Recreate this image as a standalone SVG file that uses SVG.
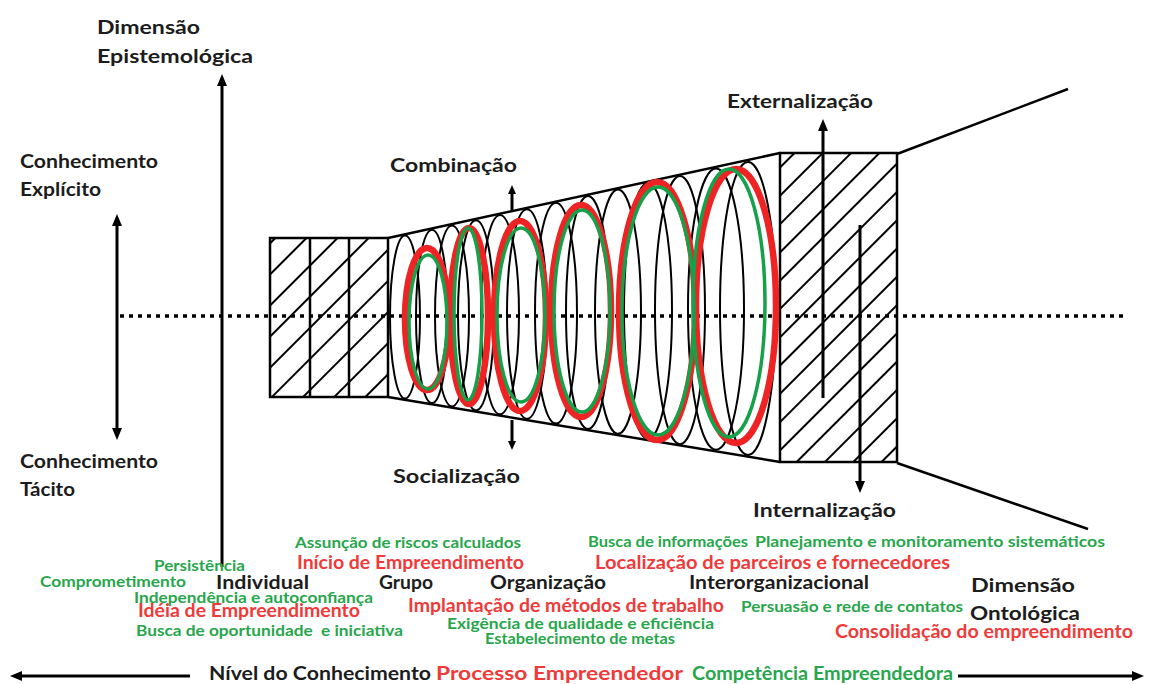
<svg xmlns="http://www.w3.org/2000/svg" width="1150" height="684" viewBox="0 0 1150 684">
<defs>
<style>
text { font-family: Lato, "Liberation Sans", sans-serif; font-weight: 700; white-space: pre; }
.k { fill: #1c1c1c; font-size: 19.5px; }
.g { fill: #27a64c; font-size: 16px; }
.r { fill: #f03a3a; font-size: 18px; }
.big { font-size: 19.5px; }
.ln { stroke: #000; stroke-width: 2.5; fill: none; }
.ax { stroke: #000; stroke-width: 3; fill: none; }
.be { stroke: #000; stroke-width: 2; fill: none; }
.re { stroke: #ee2424; stroke-width: 6.5; fill: none; }
.ge { stroke: #17a04a; stroke-width: 3.5; fill: none; }
</style>
<marker id="ah" viewBox="0 0 12 10" refX="2" refY="5" markerWidth="12" markerHeight="10" markerUnits="userSpaceOnUse" orient="auto-start-reverse"><path d="M0,0 L12,5 L0,10 z" fill="#000"/></marker>
<marker id="ahs" viewBox="0 0 9 8" refX="2" refY="4" markerWidth="9" markerHeight="8" markerUnits="userSpaceOnUse" orient="auto-start-reverse"><path d="M0,0 L9,4 L0,8 z" fill="#000"/></marker>
<pattern id="hatchL" patternUnits="userSpaceOnUse" width="22" height="22" patternTransform="rotate(45)"><line x1="11" y1="0" x2="11" y2="22" stroke="#000" stroke-width="2"/></pattern>
<pattern id="hatchR" patternUnits="userSpaceOnUse" width="20" height="20" patternTransform="rotate(45)"><line x1="10" y1="0" x2="10" y2="20" stroke="#000" stroke-width="2"/></pattern>
</defs>
<rect width="1150" height="684" fill="#fff"/>

<g id="connectors">
<line class="ax" x1="222" y1="567" x2="222" y2="84" marker-end="url(#ah)"/>
<line class="ax" x1="117" y1="224" x2="117" y2="430" marker-start="url(#ah)" marker-end="url(#ah)"/>
<line class="ax" x1="190" y1="676" x2="20" y2="676" marker-end="url(#ah)"/>
<line class="ax" x1="958" y1="676" x2="1134" y2="676" marker-end="url(#ah)"/>
<line class="ax" x1="512" y1="212" x2="512" y2="192" marker-end="url(#ahs)"/>
<line class="ax" x1="512" y1="420" x2="512" y2="443" marker-end="url(#ahs)"/>
</g>

<g id="black-ellipses">
<ellipse class="be" cx="405" cy="317" rx="15" ry="81.5"/>
<ellipse class="be" cx="432" cy="316.4" rx="16" ry="86.7"/>
<ellipse class="be" cx="452" cy="315.9" rx="17" ry="90.5"/>
<ellipse class="be" cx="476" cy="315.3" rx="18" ry="95.1"/>
<ellipse class="be" cx="500" cy="314.6" rx="19" ry="99.7"/>
<ellipse class="be" cx="527" cy="314" rx="20" ry="104.8"/>
<ellipse class="be" cx="556" cy="313.2" rx="21" ry="110.4"/>
<ellipse class="be" cx="588" cy="312.4" rx="22" ry="116.5"/>
<ellipse class="be" cx="618" cy="311.6" rx="23" ry="122.2"/>
<ellipse class="be" cx="648" cy="310.9" rx="24" ry="128"/>
<ellipse class="be" cx="680" cy="310.1" rx="25" ry="134.1"/>
<ellipse class="be" cx="716" cy="309.2" rx="28" ry="140.6"/>
<ellipse class="be" cx="748" cy="308.4" rx="28" ry="146.5"/>
</g>

<g id="structure">
<rect x="270" y="238" width="118" height="159" fill="url(#hatchL)" stroke="#000" stroke-width="2.5"/>
<line class="ln" x1="310" y1="238" x2="310" y2="397"/>
<line class="ln" x1="349" y1="238" x2="349" y2="397"/>
<line class="ln" x1="388" y1="238" x2="780" y2="153"/>
<line class="ln" x1="388" y1="397" x2="780" y2="462"/>
<rect x="780" y="153" width="117" height="309" fill="url(#hatchR)" stroke="#000" stroke-width="2.5"/>
<line class="ln" x1="897" y1="154" x2="1068" y2="89"/>
<line class="ln" x1="897" y1="463" x2="1088" y2="529"/>
<line class="ax" x1="823" y1="398" x2="823" y2="129" marker-end="url(#ah)"/>
<line class="ax" x1="860" y1="225" x2="860" y2="483" marker-end="url(#ah)"/>
</g>

<line id="axis-dotted" x1="120" y1="316" x2="1124" y2="316" stroke="#000" stroke-width="3.5" stroke-dasharray="4 5"/>

<g id="process-ellipses">
<ellipse class="re" cx="427" cy="319" rx="22" ry="71"/>
<ellipse class="re" cx="469" cy="316" rx="19" ry="88"/>
<ellipse class="re" cx="520" cy="316" rx="26" ry="95"/>
<ellipse class="re" cx="581" cy="311" rx="30" ry="106"/>
<ellipse class="re" cx="657" cy="311" rx="38" ry="129"/>
<ellipse class="re" cx="736" cy="306" rx="40" ry="137"/>
</g>
<g id="competence-ellipses">
<ellipse class="ge" cx="428" cy="322" rx="19" ry="67"/>
<ellipse class="ge" cx="468" cy="314" rx="14" ry="86"/>
<ellipse class="ge" cx="521" cy="315" rx="24" ry="87"/>
<ellipse class="ge" cx="582" cy="311" rx="28" ry="101"/>
<ellipse class="ge" cx="658" cy="311" rx="36" ry="124"/>
<ellipse class="ge" cx="729" cy="303" rx="36" ry="134"/>
</g>

<g id="label-epistemologica"><text class="k" x="97" y="34" textLength="103" lengthAdjust="spacingAndGlyphs">Dimensão</text><text class="k" x="97" y="63" textLength="156" lengthAdjust="spacingAndGlyphs">Epistemológica</text></g>
<g id="label-explicito"><text class="k" x="20" y="168" textLength="138" lengthAdjust="spacingAndGlyphs">Conhecimento</text><text class="k" x="20" y="196" textLength="81" lengthAdjust="spacingAndGlyphs">Explícito</text></g>
<g id="label-tacito"><text class="k" x="20" y="468" textLength="138" lengthAdjust="spacingAndGlyphs">Conhecimento</text><text class="k" x="20" y="496" textLength="55" lengthAdjust="spacingAndGlyphs">Tácito</text></g>
<g id="label-combinacao"><text class="k" x="390" y="172" textLength="127" lengthAdjust="spacingAndGlyphs">Combinação</text></g>
<g id="label-socializacao"><text class="k" x="393" y="483" textLength="127" lengthAdjust="spacingAndGlyphs">Socialização</text></g>
<g id="label-externalizacao"><text class="k" x="727" y="108" textLength="146" lengthAdjust="spacingAndGlyphs">Externalização</text></g>
<g id="label-internalizacao"><text class="k" x="753" y="517" textLength="143" lengthAdjust="spacingAndGlyphs">Internalização</text></g>

<g id="level-individual">
<text class="k" x="216" y="589" textLength="93" lengthAdjust="spacingAndGlyphs">Individual</text>
<text class="g" x="154" y="571" textLength="91" lengthAdjust="spacingAndGlyphs">Persistência</text>
<text class="g" x="40" y="587" textLength="146" lengthAdjust="spacingAndGlyphs">Comprometimento</text>
<text class="g" x="134" y="603" textLength="239" lengthAdjust="spacingAndGlyphs">Independência e autoconfiança</text>
<text class="r" x="138" y="617" textLength="222" lengthAdjust="spacingAndGlyphs">Idéia de Empreendimento</text>
<text class="g" x="136" y="636" textLength="267" lengthAdjust="spacingAndGlyphs">Busca de oportunidade  e iniciativa</text>
</g>
<g id="level-grupo">
<text class="k" x="379" y="589" textLength="54" lengthAdjust="spacingAndGlyphs">Grupo</text>
<text class="g" x="295" y="548" textLength="226" lengthAdjust="spacingAndGlyphs">Assunção de riscos calculados</text>
<text class="r" x="297" y="569" textLength="227" lengthAdjust="spacingAndGlyphs">Início de Empreendimento</text>
</g>
<g id="level-organizacao">
<text class="k" x="490" y="589" textLength="116" lengthAdjust="spacingAndGlyphs">Organização</text>
<text class="r" x="408" y="612" textLength="316" lengthAdjust="spacingAndGlyphs">Implantação de métodos de trabalho</text>
<text class="g" x="447" y="629" textLength="267" lengthAdjust="spacingAndGlyphs">Exigência de qualidade e eficiência</text>
<text class="g" x="485" y="644" textLength="190" lengthAdjust="spacingAndGlyphs">Estabelecimento de metas</text>
</g>
<g id="level-interorganizacional">
<text class="k" x="689" y="589" textLength="180" lengthAdjust="spacingAndGlyphs">Interorganizacional</text>
<text class="g" x="588" y="547" textLength="160" lengthAdjust="spacingAndGlyphs">Busca de informações</text>
<text class="g" x="755" y="547" textLength="350" lengthAdjust="spacingAndGlyphs">Planejamento e monitoramento sistemáticos</text>
<text class="r" x="595" y="569" textLength="355" lengthAdjust="spacingAndGlyphs">Localização de parceiros e fornecedores</text>
<text class="g" x="741" y="612" textLength="222" lengthAdjust="spacingAndGlyphs">Persuasão e rede de contatos</text>
<text class="r" x="835" y="638" textLength="298" lengthAdjust="spacingAndGlyphs">Consolidação do empreendimento</text>
</g>
<g id="label-ontologica"><text class="k" x="971" y="592" textLength="104" lengthAdjust="spacingAndGlyphs">Dimensão</text><text class="k" x="970" y="620" textLength="110" lengthAdjust="spacingAndGlyphs">Ontológica</text></g>
<g id="legend">
<text class="k big" x="209" y="680" textLength="222" lengthAdjust="spacingAndGlyphs">Nível do Conhecimento</text>
<text class="r big" x="436" y="680" textLength="247" lengthAdjust="spacingAndGlyphs">Processo Empreendedor</text>
<text class="g big" x="692" y="680" textLength="261" lengthAdjust="spacingAndGlyphs">Competência Empreendedora</text>
</g>
</svg>
